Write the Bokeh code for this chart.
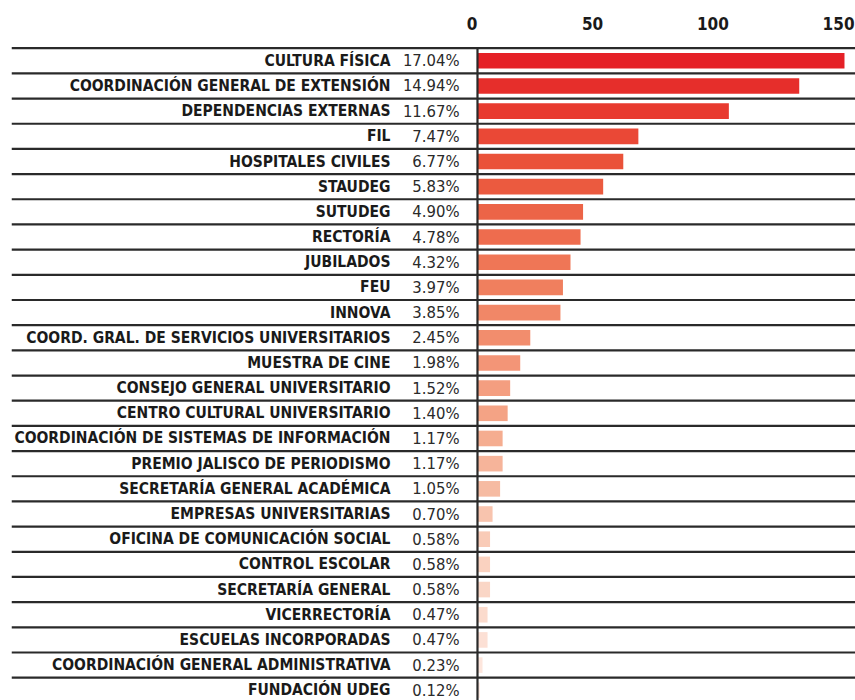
from bokeh.plotting import figure
from bokeh.models import Range1d, Span, ColumnDataSource
from bokeh.core.properties import value
from bokeh.embed import file_html
from bokeh.resources import INLINE

categories = [
    "CULTURA FÍSICA", "COORDINACIÓN GENERAL DE EXTENSIÓN", "DEPENDENCIAS EXTERNAS",
    "FIL", "HOSPITALES CIVILES", "STAUDEG", "SUTUDEG", "RECTORÍA", "JUBILADOS",
    "FEU", "INNOVA", "COORD. GRAL. DE SERVICIOS UNIVERSITARIOS", "MUESTRA DE CINE",
    "CONSEJO GENERAL UNIVERSITARIO", "CENTRO CULTURAL UNIVERSITARIO",
    "COORDINACIÓN DE SISTEMAS DE INFORMACIÓN", "PREMIO JALISCO DE PERIODISMO",
    "SECRETARÍA GENERAL ACADÉMICA", "EMPRESAS UNIVERSITARIAS",
    "OFICINA DE COMUNICACIÓN SOCIAL", "CONTROL ESCOLAR", "SECRETARÍA GENERAL",
    "VICERRECTORÍA", "ESCUELAS INCORPORADAS", "COORDINACIÓN GENERAL ADMINISTRATIVA",
    "FUNDACIÓN UDEG",
]
counts = [146, 128, 100, 64, 58, 50, 42, 41, 37, 34, 33, 21, 17, 13, 12, 10, 10, 9,
          6, 5, 5, 5, 4, 4, 2, 1]
percent_labels = ["17.04%", "14.94%", "11.67%", "7.47%", "6.77%", "5.83%", "4.90%",
                  "4.78%", "4.32%", "3.97%", "3.85%", "2.45%", "1.98%", "1.52%",
                  "1.40%", "1.17%", "1.17%", "1.05%", "0.70%", "0.58%", "0.58%",
                  "0.58%", "0.47%", "0.47%", "0.23%", "0.12%"]
tick_values = [0, 50, 100, 150]
tick_labels = ["0", "50", "100", "150"]

colors = ["#E52127", "#E62E2B", "#E83A2F", "#EA4836", "#EA5239", "#EB5A3F",
          "#EC6447", "#EE6C4E", "#EF7656", "#F07F5E", "#F18767", "#F28D6D",
          "#F39577", "#F49E80", "#F4A385", "#F5AD90", "#F6B49A", "#F6BBA2",
          "#F8C4AE", "#F9CBB7", "#FAD2C0", "#FAD6C6", "#FBDBCD", "#FCE0D5",
          "#FDE6DD", "#FEEDE6"]

rows = list(range(len(categories)))
src = ColumnDataSource(dict(y=rows, cat=categories, n=counts, pct=percent_labels,
                            color=colors, zero=[0] * len(rows)))

FONT = value("DejaVu Sans Condensed")

p = figure(width=855, height=700, output_backend="svg", toolbar_location=None,
           x_axis_location=None, y_axis_location=None,
           min_border_left=11, min_border_right=0, min_border_top=0, min_border_bottom=0,
           outline_line_color=None)
p.x_range = Range1d(-185.38, 150.38)
y_bottom = 25.406
p.y_range = Range1d(y_bottom, -2.394)
p.xgrid.visible = False
p.ygrid.visible = False

p.hbar(y="y", left=0, right="n", height=0.62, fill_color="color", line_color=None,
       source=src)

for b in [i - 0.5 for i in rows]:
    p.add_layout(Span(location=b, dimension="width", line_color="#2a2a2a", line_width=2.2))

p.segment(x0=[0], y0=[-0.5], x1=[0], y1=[y_bottom], line_color="#2a2a2a", line_width=2.2)

p.text(x="zero", y="y", text="cat", source=src, x_offset=-87, text_align="right",
       text_baseline="middle", text_font=FONT, text_font_style="bold",
       text_font_size="15.5px", text_color="#1a1a1a")
p.text(x="zero", y="y", text="pct", source=src, x_offset=-18, text_align="right",
       text_baseline="middle", text_font=FONT, text_font_size="16.5px",
       text_color="#2a2a2a")

tsrc = ColumnDataSource(dict(x=tick_values, t=tick_labels, y=[-1.5] * len(tick_values)))
p.text(x="x", y="y", text="t", source=tsrc, text_align="right", text_baseline="middle",
       text_font=FONT, text_font_style="bold", text_font_size="17px",
       text_color="#1a1a1a")

open("out.html", "w").write(file_html(p, INLINE))
